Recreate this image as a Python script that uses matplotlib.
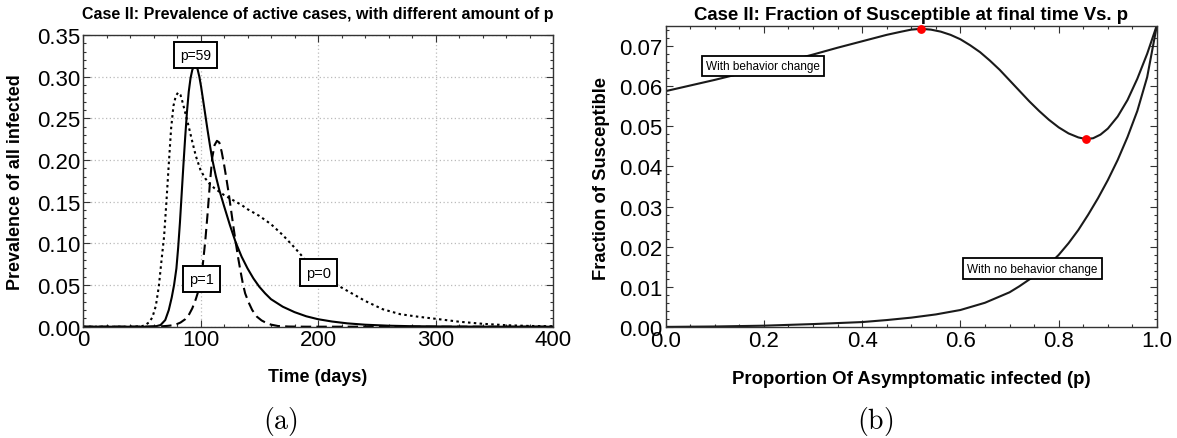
import matplotlib
matplotlib.use("Agg")
import matplotlib.pyplot as plt
from matplotlib.ticker import MultipleLocator, FormatStrFormatter

plt.rcParams['font.family'] = ['Liberation Sans', 'DejaVu Sans']
plt.rcParams['mathtext.fontset'] = 'cm'

# ---- Panel (a): prevalence of all infected over time ----
t_p59 = [0, 40, 55, 62, 66, 70, 73, 75.5, 77.5, 79.5, 81, 82.5, 84, 85.5, 87, 88.5, 90,
         91.5, 93, 94.5, 96, 97.5, 99, 100.5, 102, 104, 106, 108, 110, 113, 116, 120, 125,
         130, 135, 140, 145, 150, 155, 160, 170, 180, 190, 200, 212, 225, 240, 260, 280,
         310, 350, 400]
prev_p59 = [0, 0, 0, 0.0005, 0.002, 0.008, 0.02, 0.035, 0.05, 0.07, 0.095, 0.125, 0.16,
            0.195, 0.228, 0.258, 0.282, 0.298, 0.308, 0.313, 0.3135, 0.309, 0.300, 0.288,
            0.274, 0.255, 0.236, 0.218, 0.201, 0.181, 0.164, 0.145, 0.122, 0.101, 0.084,
            0.070, 0.058, 0.048, 0.040, 0.033, 0.024, 0.0175, 0.0125, 0.009, 0.0062,
            0.004, 0.0024, 0.0012, 0.0006, 0.0002, 0.0, 0.0]

t_p1 = [0, 50, 65, 72, 78, 83, 87, 90, 93, 96, 98, 100, 102, 104, 106, 108, 110, 112, 114,
        116, 118, 120, 122, 124, 126, 128, 130, 132, 134, 136, 138, 141, 144, 148, 152,
        156, 160, 166, 175, 190, 220, 400]
prev_p1 = [0, 0, 0.0003, 0.001, 0.002, 0.005, 0.009, 0.014, 0.022, 0.033, 0.042, 0.053,
           0.075, 0.102, 0.135, 0.172, 0.203, 0.218, 0.223, 0.221, 0.210, 0.195, 0.178,
           0.160, 0.140, 0.120, 0.101, 0.083, 0.067, 0.052, 0.040, 0.029, 0.020, 0.012,
           0.0075, 0.0045, 0.0025, 0.0008, 0.0002, 0, 0, 0]

t_p0 = [0, 40, 50, 53, 56, 59, 62, 64.5, 67, 69, 71, 73, 75, 77, 79, 81, 83, 85, 87.5, 90,
        93, 96, 100, 104, 108, 112, 116, 120, 125, 130, 135, 140, 150, 160, 170, 180, 190,
        200, 210, 220, 230, 240, 255, 270, 285, 300, 320, 340, 360, 380, 400]
prev_p0 = [0, 0, 0.0005, 0.002, 0.005, 0.011, 0.025, 0.048, 0.082, 0.108, 0.15, 0.195,
           0.238, 0.265, 0.277, 0.281, 0.278, 0.268, 0.254, 0.24, 0.222, 0.205, 0.188,
           0.178, 0.171, 0.166, 0.162, 0.158, 0.154, 0.150, 0.146, 0.141, 0.133, 0.123,
           0.110, 0.095, 0.079, 0.066, 0.056, 0.047, 0.039, 0.031, 0.021, 0.015, 0.012,
           0.0095, 0.006, 0.0035, 0.0018, 0.0009, 0.0005]

# ---- Panel (b): final susceptible fraction against p ----
p_bc = [0, 0.05, 0.1, 0.15, 0.2, 0.25, 0.3, 0.35, 0.4, 0.45, 0.48, 0.5, 0.52, 0.54, 0.56,
        0.58, 0.60, 0.62, 0.64, 0.66, 0.68, 0.70, 0.72, 0.74, 0.76, 0.78, 0.80, 0.82, 0.84,
        0.855, 0.87, 0.885, 0.90, 0.92, 0.94, 0.96, 0.98, 1.0]
s_bc = [0.0587, 0.0601, 0.0615, 0.0630, 0.0646, 0.0662, 0.0678, 0.0695, 0.0711, 0.0727,
        0.0735, 0.0740, 0.0742, 0.0740, 0.0735, 0.0727, 0.0716, 0.0701, 0.0684, 0.0663,
        0.0640, 0.0614, 0.0588, 0.0562, 0.0538, 0.0516, 0.0497, 0.0482, 0.0472, 0.0468,
        0.0470, 0.0479, 0.0494, 0.0524, 0.0565, 0.0618, 0.0680, 0.0752]

p_nbc = [0, 0.1, 0.2, 0.3, 0.4, 0.45, 0.5, 0.55, 0.6, 0.65, 0.7, 0.72, 0.75, 0.78, 0.8,
         0.82, 0.84, 0.86, 0.88, 0.9, 0.92, 0.94, 0.96, 0.98, 1.0]
s_nbc = [0.0001, 0.0002, 0.0004, 0.0008, 0.0013, 0.0018, 0.0024, 0.0032, 0.0043, 0.0061,
         0.0087, 0.0102, 0.0127, 0.0156, 0.0180, 0.0209, 0.0242, 0.0280, 0.0321, 0.0366,
         0.0416, 0.0473, 0.0538, 0.0622, 0.0752]

extrema_p = [0.52, 0.855]
extrema_s = [0.0742, 0.0468]

W, H = 1177, 439
fig = plt.figure(figsize=(W / 100, H / 100), dpi=100)


def px_axes(x0, x1, ytop, ybot):
    return fig.add_axes([x0 / W, 1 - ybot / H, (x1 - x0) / W, (ybot - ytop) / H])


def frame_style(ax):
    ax.tick_params(which='both', direction='in', top=True, right=True, width=0.8,
                   color='#333333')
    ax.tick_params(which='major', length=5, labelsize=16, pad=2)
    ax.tick_params(which='minor', length=2.5)
    for s in ax.spines.values():
        s.set_linewidth(1.0)
        s.set_color('#333333')


box_a = dict(boxstyle='square,pad=0.42', fc='white', ec='black', lw=1.4)
box_b = dict(boxstyle='square,pad=0.35', fc='white', ec='black', lw=1.3)

# Panel (a)
ax1 = px_axes(83, 553, 36, 327.7)
ax1.set_xlim(0, 400)
ax1.set_ylim(0, 0.35)
ax1.xaxis.set_major_locator(MultipleLocator(100))
ax1.xaxis.set_minor_locator(MultipleLocator(20))
ax1.yaxis.set_major_locator(MultipleLocator(0.05))
ax1.yaxis.set_minor_locator(MultipleLocator(0.01))
ax1.yaxis.set_major_formatter(FormatStrFormatter('%.2f'))
ax1.grid(True, which='major', color='#bbbbbb', ls=(0, (1, 2)), lw=0.9)
frame_style(ax1)
ax1.plot(t_p0, prev_p0, color='black', lw=1.5, ls=(0, (1.2, 1.6)))
ax1.plot(t_p1, prev_p1, color='black', lw=1.5, ls=(0, (5, 2.5)))
ax1.plot(t_p59, prev_p59, color='black', lw=1.5)
ax1.text(96, 0.326, 'p=59', ha='center', va='center', fontsize=10, bbox=box_a, zorder=5)
ax1.text(101, 0.057, 'p=1', ha='center', va='center', fontsize=10.5, bbox=box_a, zorder=5)
ax1.text(200.5, 0.065, 'p=0', ha='center', va='center', fontsize=10.5, bbox=box_a,
         zorder=5)

# Panel (b)
ax2 = px_axes(665.5, 1157, 26.6, 328.3)
ax2.set_xlim(0, 1)
ax2.set_ylim(0, 0.075)
ax2.xaxis.set_major_locator(MultipleLocator(0.2))
ax2.xaxis.set_minor_locator(MultipleLocator(0.05))
ax2.yaxis.set_major_locator(MultipleLocator(0.01))
ax2.yaxis.set_minor_locator(MultipleLocator(0.002))
ax2.xaxis.set_major_formatter(FormatStrFormatter('%.1f'))
ax2.yaxis.set_major_formatter(FormatStrFormatter('%.2f'))
frame_style(ax2)
ax2.plot(p_bc, s_bc, color='#1a1a1a', lw=1.5)
ax2.plot(p_nbc, s_nbc, color='#1a1a1a', lw=1.5)
ax2.plot(extrema_p, extrema_s, 'o', color='red', ms=5.3, zorder=6, clip_on=False)
ax2.text(0.199, 0.065, 'With behavior change', ha='center', va='center', fontsize=8.5,
         bbox=box_b, zorder=5)
ax2.text(0.747, 0.0146, 'With no behavior change', ha='center', va='center',
         fontsize=8.5, bbox=box_b, zorder=5)

# Titles, axis labels, captions
fig.text(318 / W, 1 - 14 / H, 'Case II: Prevalence of active cases, with different amount of p',
         ha='center', va='center', fontsize=11.5, fontweight='bold')
fig.text(911 / W, 1 - 15 / H, 'Case II: Fraction of Susceptible at final time Vs. p',
         ha='center', va='center', fontsize=13.4, fontweight='bold')
fig.text(318 / W, 1 - 378 / H, 'Time (days)', ha='center', va='center', fontsize=12.9,
         fontweight='bold')
fig.text(911 / W, 1 - 380 / H, 'Proportion Of Asymptomatic infected (p)', ha='center',
         va='center', fontsize=13.4, fontweight='bold')
fig.text(16 / W, 1 - 182 / H, 'Prevalence of all infected', ha='center', va='center',
         rotation=90, fontsize=12.9, fontweight='bold')
fig.text(601 / W, 1 - 178 / H, 'Fraction of Susceptible', ha='center', va='center',
         rotation=90, fontsize=13.2, fontweight='bold')
fig.text(280 / W, 1 - 422 / H, r'$\mathrm{(a)}$', ha='center', va='center', fontsize=20)
fig.text(875 / W, 1 - 422 / H, r'$\mathrm{(b)}$', ha='center', va='center', fontsize=20)

fig.savefig('out.png', dpi=100)
